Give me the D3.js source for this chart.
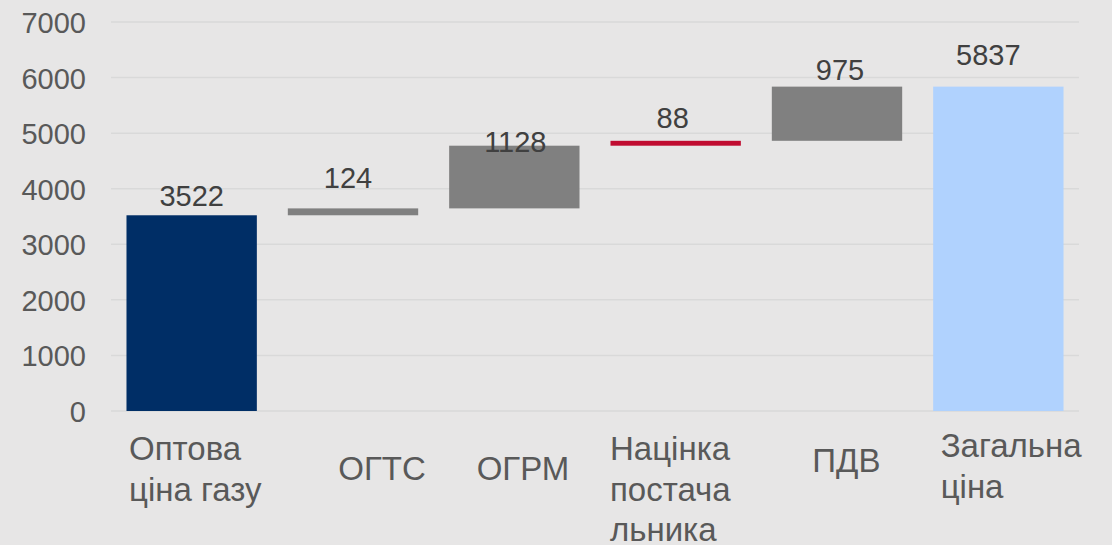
<!DOCTYPE html>
<html>
<head>
<meta charset="utf-8">
<script src="https://cdn.jsdelivr.net/npm/d3@7"></script>
<style>
  html, body { margin: 0; padding: 0; background: #e7e6e6; }
  svg { display: block; }
  text { font-family: "Liberation Sans", Arial, sans-serif; }
</style>
</head>
<body>
<svg id="chart" width="1112" height="545"></svg>
<script>
// ---- data ----
const categories = ["Оптова ціна газу", "ОГТС", "ОГРМ", "Націнка постачальника", "ПДВ", "Загальна ціна"];
const categoryLines = [["Оптова", "ціна газу"], ["ОГТС"], ["ОГРМ"], ["Націнка", "постача", "льника"], ["ПДВ"], ["Загальна", "ціна"]];
const values = [3522, 124, 1128, 88, 975, 5837];
const kinds = ["total", "step", "step", "step", "step", "total"];
const yTicks = [0, 1000, 2000, 3000, 4000, 5000, 6000, 7000];

// ---- styles / layout (not data) ----
const barColors = ["#002e66", "#808080", "#808080", "#c00c30", "#808080", "#b0d2fe"];
const labelDx = [0, -5, 1, -3, 3, -10];
const labelDy = [-9, -20, 6, -12.5, -6.5, -21.5];
const catDx = [18, 66, 43, 15, 56, 23];
const catDy = [49, 69, 69, 49, 60.5, 46];

const svg = d3.select("#chart");
const W = 1112, H = 545;
const pLeft = 111, pRight = 1079, pTop = 22, pBottom = 411;

svg.append("rect").attr("width", W).attr("height", H).attr("fill", "#e7e6e6");

const x = d3.scaleBand().domain(categories).range([pLeft, pRight]).paddingInner(0.192).paddingOuter(0.096);
const y = d3.scaleLinear().domain([0, 7000]).range([pBottom, pTop]);

// gridlines
svg.append("g").selectAll("line").data(yTicks).join("line")
  .attr("x1", pLeft).attr("x2", pRight)
  .attr("y1", d => y(d)).attr("y2", d => y(d))
  .attr("stroke", "#d9d9d9").attr("stroke-width", 1.5);

// y axis
const yAxis = d3.axisLeft(y).tickValues(yTicks).tickSize(0).tickPadding(0).tickFormat(d3.format("d"));
const gy = svg.append("g").attr("transform", `translate(${86},0)`).call(yAxis);
gy.select(".domain").remove();
gy.selectAll("text").attr("fill", "#595959").style("font-size", "29px")
  .style("font-family", '"Liberation Sans", Arial, sans-serif').attr("dy", "0.36em");

// compute waterfall bases
let running = 0;
const bars = values.map((v, i) => {
  let lo, hi;
  if (kinds[i] === "total") { lo = 0; hi = v; running = v; }
  else { lo = running; hi = running + v; running = hi; }
  return { cat: categories[i], v, lo, hi, i };
});

svg.append("g").selectAll("rect").data(bars).join("rect")
  .attr("x", d => x(d.cat))
  .attr("width", x.bandwidth())
  .attr("y", d => y(d.hi))
  .attr("height", d => y(d.lo) - y(d.hi))
  .attr("fill", d => barColors[d.i]);

// value labels
svg.append("g").selectAll("text").data(bars).join("text")
  .attr("x", d => x(d.cat) + x.bandwidth() / 2 + labelDx[d.i])
  .attr("y", d => y(d.hi) + labelDy[d.i])
  .attr("text-anchor", "middle")
  .attr("fill", "#404040")
  .style("font-size", "29px")
  .text(d => d.v);

// category labels
const cg = svg.append("g");
categories.forEach((c, i) => {
  const t = cg.append("text")
    .attr("x", x.step() * i + pLeft + catDx[i])
    .attr("y", pBottom + catDy[i])
    .attr("fill", "#595959")
    .style("font-size", "33px");
  categoryLines[i].forEach((ln, k) => {
    t.append("tspan").attr("x", x.step() * i + pLeft + catDx[i])
      .attr("dy", k === 0 ? 0 : 40.5).text(ln);
  });
});
</script>
</body>
</html>
